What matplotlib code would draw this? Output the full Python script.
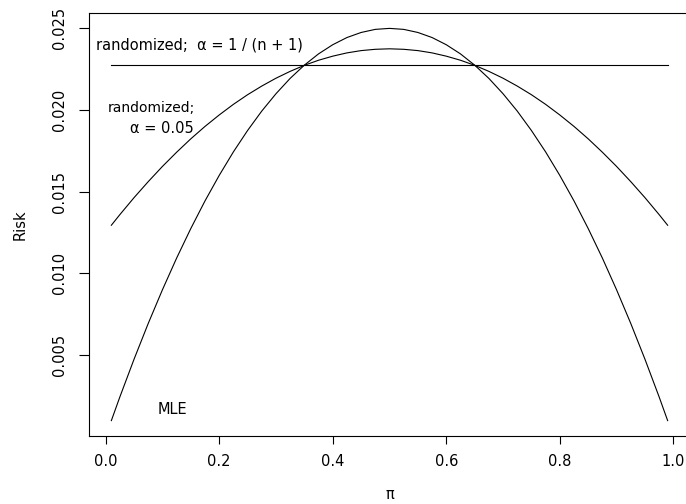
import matplotlib
matplotlib.use("Agg")
import matplotlib.pyplot as plt

plt.rcParams["font.family"] = ["DejaVu Sans"]

# success probability grid
pi_vals = [0.01, 0.025, 0.05, 0.075, 0.10, 0.125, 0.15, 0.175, 0.20, 0.225,
           0.25, 0.275, 0.30, 0.325, 0.35, 0.375, 0.40, 0.425, 0.45, 0.475,
           0.50, 0.525, 0.55, 0.575, 0.60, 0.625, 0.65, 0.675, 0.70, 0.725,
           0.75, 0.775, 0.80, 0.825, 0.85, 0.875, 0.90, 0.925, 0.95, 0.975,
           0.99]

# risk of the maximum likelihood estimator
risk_mle = [0.00099, 0.00244, 0.00475, 0.00694, 0.00900, 0.01094, 0.01275,
            0.01444, 0.01600, 0.01744, 0.01875, 0.01994, 0.02100, 0.02194,
            0.02275, 0.02344, 0.02400, 0.02444, 0.02475, 0.02494, 0.02500,
            0.02494, 0.02475, 0.02444, 0.02400, 0.02344, 0.02275, 0.02194,
            0.02100, 0.01994, 0.01875, 0.01744, 0.01600, 0.01444, 0.01275,
            0.01094, 0.00900, 0.00694, 0.00475, 0.00244, 0.00099]

# risk of the randomized estimator with alpha = 0.05
risk_rand05 = [0.01295, 0.01360, 0.01464, 0.01562, 0.01655, 0.01742, 0.01824,
               0.01900, 0.01970, 0.02035, 0.02094, 0.02147, 0.02195, 0.02237,
               0.02274, 0.02305, 0.02330, 0.02350, 0.02364, 0.02372, 0.02375,
               0.02372, 0.02364, 0.02350, 0.02330, 0.02305, 0.02274, 0.02237,
               0.02195, 0.02147, 0.02094, 0.02035, 0.01970, 0.01900, 0.01824,
               0.01742, 0.01655, 0.01562, 0.01464, 0.01360, 0.01295]

# risk of the randomized estimator with alpha = 1/(n+1): constant
risk_const = [0.02273] * len(pi_vals)

fig = plt.figure(figsize=(6.86, 5.04), dpi=100)
ax = fig.add_axes([89.1 / 686, (504 - 436.3) / 504, (689.9 - 89.1) / 686,
                   (436.3 - 12.7) / 504])

lw = 0.8
ax.plot(pi_vals, risk_const, color="black", lw=lw)
ax.plot(pi_vals, risk_rand05, color="black", lw=lw)
ax.plot(pi_vals, risk_mle, color="black", lw=lw)
ax.margins(x=0.04, y=0.04)

ax.set_xticks([0.0, 0.2, 0.4, 0.6, 0.8, 1.0])
ax.set_xticklabels(["0.0", "0.2", "0.4", "0.6", "0.8", "1.0"])
ax.set_yticks([0.005, 0.010, 0.015, 0.020, 0.025])
ax.set_yticklabels(["0.005", "0.010", "0.015", "0.020", "0.025"],
                   rotation=90, va="center")

fs = 10.5
ax.tick_params(axis="x", length=5.5, width=0.8, pad=7.5, labelsize=fs)
ax.tick_params(axis="y", length=7.2, width=0.8, pad=8.5, labelsize=fs)
for s in ax.spines.values():
    s.set_linewidth(0.8)

ax.set_xlabel("π", fontsize=fs, labelpad=13)
ax.set_ylabel("Risk", fontsize=fs, labelpad=18)

ax.text(0.165, 0.0240, "randomized;  α = 1 / (n + 1)", fontsize=fs,
        ha="center", va="center")
ax.text(0.08, 0.0201, "randomized;", fontsize=10, ha="center", va="center")
ax.text(0.099, 0.0189, "α = 0.05", fontsize=fs, ha="center", va="center")
ax.text(0.117, 0.0017, "MLE", fontsize=fs, ha="center", va="center")

fig.savefig("out.png", dpi=100)
